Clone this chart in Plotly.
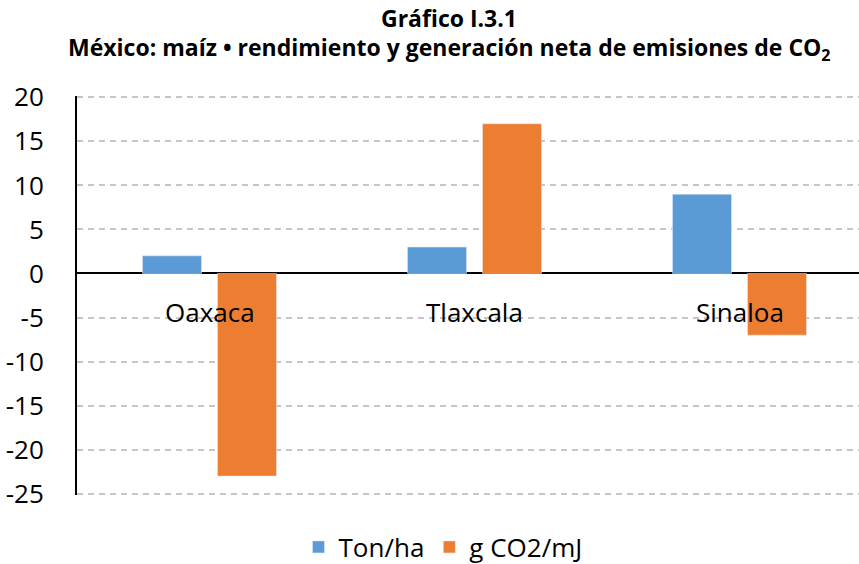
import plotly.graph_objects as go

categories = ["Oaxaca", "Tlaxcala", "Sinaloa"]
ton_ha = [2, 3, 9]
g_co2_mj = [-23, 17, -7]
series_names = ["Ton/ha", "g CO2/mJ"]
y_ticks = [-25, -20, -15, -10, -5, 0, 5, 10, 15, 20]
y_tick_labels = ["-25", "-20", "-15", "-10", "-5", "0", "5", "10", "15", "20"]
title_line1 = "Gráfico I.3.1"
title_line2 = "México: maíz • rendimiento y generación neta de emisiones de CO<sub>2</sub>"

W, H = 859, 564
ML, MR, MT, MB = 77, 0, 96, 69
PW, PH = W - ML - MR, H - MT - MB
CAT_PX = 265.0  # pixel width of one category in the reference (plot runs past the right edge)

def px_to_paper_x(px):
    return (px - ML) / PW

def px_to_paper_y(py):
    return 1 + (MT - py) / PH

fig = go.Figure()
fig.add_trace(go.Bar(x=categories, y=ton_ha, name=series_names[0], marker_color="#5B9BD5"))
fig.add_trace(go.Bar(x=categories, y=g_co2_mj, name=series_names[1], marker_color="#ED7D31"))

font = "Open Sans, Noto Sans, sans-serif"
tfont = dict(size=23, family="Open Sans, sans-serif", color="#000")

annotations = [
    dict(text="<b>" + title_line1 + "</b>", xref="paper", yref="paper",
         x=px_to_paper_x(449), y=px_to_paper_y(18), showarrow=False, font=tfont,
         xanchor="center", yanchor="middle"),
    dict(text="<b>" + title_line2 + "</b>", xref="paper", yref="paper",
         x=px_to_paper_x(449), y=px_to_paper_y(48), showarrow=False, font=tfont,
         xanchor="center", yanchor="middle"),
]
for c in categories:
    annotations.append(dict(text=c, x=c, y=-4.4, xref="x", yref="y", showarrow=False,
                            font=dict(size=26, family=font, color="#000"),
                            xanchor="center", yanchor="middle"))

fig.update_layout(
    width=W, height=H,
    margin=dict(l=ML, r=MR, t=MT, b=MB, autoexpand=False),
    paper_bgcolor="white", plot_bgcolor="white",
    barmode="group", bargap=0.434, bargroupgap=0.213,
    font=dict(family=font, size=26, color="#000"),
    showlegend=True,
    legend=dict(orientation="h", xref="paper", yref="paper",
                x=px_to_paper_x(443), y=px_to_paper_y(547), xanchor="center", yanchor="middle",
                font=dict(size=26), tracegroupgap=0),
    annotations=annotations,
)
fig.update_xaxes(range=[-0.5, -0.5 + PW / CAT_PX],
                 showticklabels=False, showline=False, showgrid=False, zeroline=False, ticks="")
fig.update_yaxes(range=[-25.15, 20.15], tickvals=y_ticks, ticktext=y_tick_labels,
                 showline=True, linecolor="black", linewidth=2,
                 zeroline=True, zerolinecolor="black", zerolinewidth=2,
                 showgrid=True, gridcolor="#c6c6c6", gridwidth=1.5, griddash="6px,5px",
                 ticks="", ticklabelstandoff=26,
                 tickfont=dict(size=26, family=font, color="#000"))

fig.write_html("out.html", config={"displayModeBar": False},
               post_script="document.body.style.margin='0';document.body.style.overflow='hidden';")
